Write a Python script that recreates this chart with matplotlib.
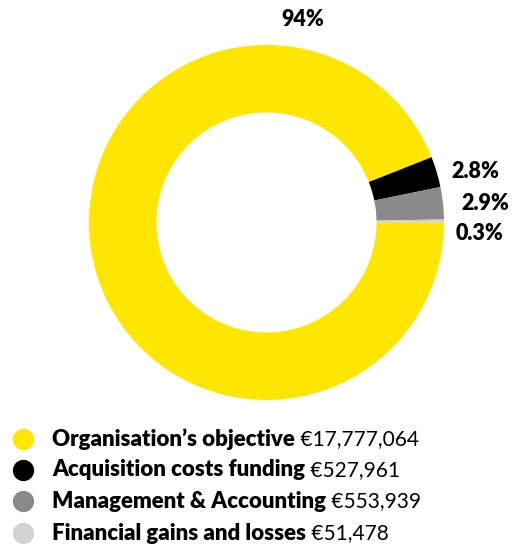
import matplotlib.pyplot as plt

plt.rcParams['font.family'] = ['Lato', 'DejaVu Sans']

labels = ['Organisation\u2019s objective', 'Acquisition costs funding',
          'Management & Accounting', 'Financial gains and losses']
amounts = [17777064, 527961, 553939, 51478]
pct_labels = ['94%', '2.8%', '2.9%', '0.3%']
colors = ['#ffe600', '#000000', '#8a8a88', '#d2d2d2']

W, H = 515, 544
fig = plt.figure(figsize=(W / 100, H / 100), dpi=100)

# donut: centre (266.5, 222.5) px, outer radius 177.5 px, inner 110 px
cx, cy, r = 266.5, 222.5, 177.5
ax = fig.add_axes([(cx - r) / W, 1 - (cy + r) / H, 2 * r / W, 2 * r / H])
ax.pie(amounts, colors=colors, startangle=0, counterclock=False, radius=1,
       wedgeprops=dict(width=1 - 110 / 177.5, linewidth=0))
ax.set_xlim(-1, 1)
ax.set_ylim(-1, 1)
ax.set_aspect('auto')
ax.axis('off')

# percentage labels (hand placed like the original, in pixels)
pos = [(303, 20), (475, 172), (485, 203), (480, 233)]
for (px, py), t in zip(pos, pct_labels):
    ax.text((px - cx) / r, (cy - py) / r, t, fontsize=15.5, fontweight='heavy',
            ha='center', va='center', clip_on=False)

# legend
lax = fig.add_axes([0, 0, 1, 1])
lax.set_xlim(0, W)
lax.set_ylim(H, 0)
lax.axis('off')
ys = [439, 470, 501, 533]
for y, lab, amt, c in zip(ys, labels, amounts, colors):
    lax.scatter([23], [y], s=235, color=c, linewidths=0)
    t = lax.text(52, y, lab, fontsize=16, fontweight='heavy', va='center')
    lax.annotate(' \u20ac{:,}'.format(amt), xy=(1, 0.5), xycoords=t,
                 va='center', ha='left', fontsize=15, fontweight='normal')

fig.savefig('out.png', dpi=100)
